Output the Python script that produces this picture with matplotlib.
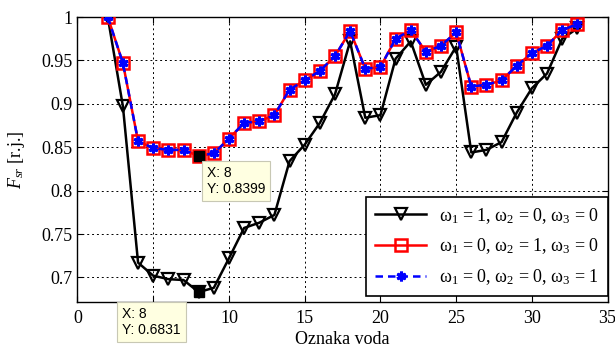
import matplotlib
matplotlib.use("Agg")
import matplotlib.pyplot as plt
import numpy as np

x = list(range(2, 34))
w1 = [1.0, 0.897, 0.717, 0.702, 0.698, 0.697, 0.6831, 0.688, 0.722, 0.757, 0.763, 0.772,
      0.834, 0.853, 0.878, 0.911, 0.972, 0.884, 0.887, 0.952, 0.972, 0.922, 0.937, 0.966,
      0.844, 0.847, 0.856, 0.890, 0.918, 0.935, 0.975, 0.987]
w2 = [1.0, 0.947, 0.857, 0.849, 0.847, 0.847, 0.8399, 0.843, 0.860, 0.878, 0.880, 0.887,
      0.9165, 0.927, 0.938, 0.955, 0.984, 0.9405, 0.9424, 0.975, 0.985, 0.960, 0.967, 0.9825,
      0.920, 0.922, 0.927, 0.944, 0.9585, 0.967, 0.985, 0.992]
w3 = list(w2)
labels = ['ω$_1$ = 1, ω$_2$ = 0, ω$_3$ = 0',
          'ω$_1$ = 0, ω$_2$ = 1, ω$_3$ = 0',
          'ω$_1$ = 0, ω$_2$ = 0, ω$_3$ = 1']
tip_x = [8, 8]
tip_y = [0.8399, 0.6831]

plt.rcParams['font.family'] = ['Liberation Serif', 'DejaVu Serif']
plt.rcParams['mathtext.fontset'] = 'custom'
plt.rcParams['mathtext.rm'] = 'Liberation Serif'
plt.rcParams['mathtext.it'] = 'Liberation Serif:italic'

fig = plt.figure(figsize=(6.15, 3.49), dpi=100)
ax = fig.add_axes([0.126, 0.1355, 0.862, 0.8155])

ax.plot(x, w1, color='black', lw=1.8, marker='v', ms=9, mfc='none', mec='black', mew=1.6, label=labels[0], zorder=3)
ax.plot(x, w2, color='red', lw=1.8, marker='s', ms=9, mfc='none', mec='red', mew=1.8, label=labels[1], zorder=4)
ax.plot(x, w3, color='blue', lw=1.8, ls='--', dashes=(3, 2), marker=(6, 2, 0), ms=7, mec='blue', mew=2.2, label=labels[2], zorder=5)

ax.plot(tip_x, tip_y, ls='none', marker='s', ms=7, color='black', zorder=6)

ax.set_xlim(0, 35)
ax.set_ylim(0.672, 1.0)
ax.set_xticks(np.arange(0, 36, 5))
ax.set_yticks([0.7, 0.75, 0.8, 0.85, 0.9, 0.95, 1.0])
ax.set_yticklabels(['0.7', '0.75', '0.8', '0.85', '0.9', '0.95', '1'])
ax.tick_params(direction='in', labelsize=13, length=4, top=True, right=True)
ax.tick_params(axis='x', pad=6)
ax.grid(True, color='black', ls=(0, (2, 3)), lw=0.7)
for s in ax.spines.values():
    s.set_linewidth(1.0)

ax.set_xlabel('Oznaka voda', fontsize=13, labelpad=3)
ax.set_ylabel(r'$F_{sr}$ [r.j.]', fontsize=13, labelpad=10)

leg = ax.legend(loc='lower right', fontsize=13, frameon=True, fancybox=False, edgecolor='black',
                framealpha=1, handlelength=2.8, borderpad=0.5, labelspacing=0.6,
                handletextpad=0.7, bbox_to_anchor=(1.0, 0.02), borderaxespad=0.0)
leg.get_frame().set_linewidth(1.2)

tipstyle = dict(boxstyle='square,pad=0.35', fc='#ffffe1', ec='#c8c8b4', lw=0.8)
ax.annotate('X: 8\nY: 0.8399', xy=(8, 0.8399), xytext=(8.55, 0.8285), fontsize=10,
            family=['Liberation Sans', 'DejaVu Sans'], va='top', ha='left', bbox=tipstyle, zorder=7)
ax.annotate('X: 8\nY: 0.6831', xy=(8, 0.6831), xytext=(2.95, 0.666), fontsize=10,
            family=['Liberation Sans', 'DejaVu Sans'], va='top', ha='left', bbox=tipstyle,
            annotation_clip=False, zorder=7)

fig.savefig('out.png', dpi=100)
